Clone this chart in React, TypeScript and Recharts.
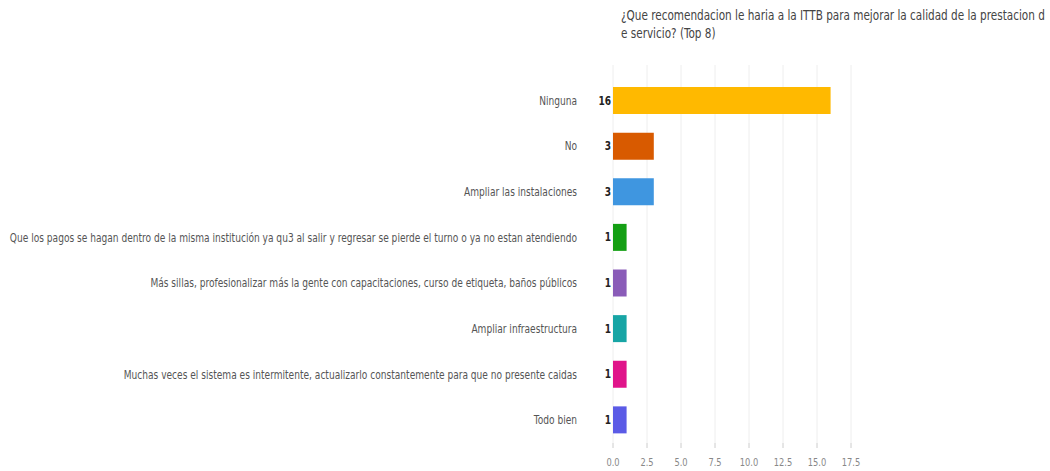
import React from "react";
import { BarChart, Bar, XAxis, YAxis, CartesianGrid, LabelList, Cell } from "recharts";

const categories = [
  "Ninguna",
  "No",
  "Ampliar las instalaciones",
  "Que los pagos se hagan dentro de la misma institución ya qu3 al salir y regresar se pierde el turno o ya no estan atendiendo",
  "Más sillas, profesionalizar más la gente con capacitaciones, curso de etiqueta, baños públicos",
  "Ampliar infraestructura",
  "Muchas veces el sistema es intermitente, actualizarlo constantemente para que no presente caidas",
  "Todo bien",
];
const counts = [16, 3, 3, 1, 1, 1, 1, 1];
const barColors = ["#ffb900", "#d85a00", "#3f96e0", "#149f14", "#8a5cb8", "#17a5a5", "#e0148a", "#5b5be6"];
const xTicks = [0, 2.5, 5, 7.5, 10, 12.5, 15, 17.5];

const FONT = "'DejaVu Sans Condensed', 'DejaVu Sans', sans-serif";
const SQX = 0.84; // horizontal squeeze of the text

const data = categories.map((c, i) => ({ name: c, value: counts[i] }));

function CatTick({ x, y, payload }: any) {
  return (
    <g transform={`translate(${x - 28},${y}) scale(${SQX},1)`}>
      <text x={0} y={0} dy={4} textAnchor="end" fontSize={12} fill="#555" fontFamily={FONT}>
        {payload.value}
      </text>
    </g>
  );
}

function NumTick({ x, y, payload }: any) {
  return (
    <g transform={`translate(${x},${y}) scale(${SQX},1)`}>
      <text x={0} y={0} dy={16} textAnchor="middle" fontSize={11} fill="#888" fontFamily={FONT}>
        {payload.value.toFixed(1)}
      </text>
    </g>
  );
}

function ValueLabel({ x, y, height, value }: any) {
  return (
    <g transform={`translate(${x - 2},${y + height / 2}) scale(${SQX},1)`}>
      <text x={0} y={0} dy={4} textAnchor="end" fontSize={12} fontWeight="bold" fill="#222" fontFamily={FONT}>
        {value}
      </text>
    </g>
  );
}

export default function App() {
  return (
    <div style={{ position: "fixed", left: 0, top: 0, width: 1050, height: 471, background: "#fff" }}>
      <div
        style={{
          position: "absolute", left: 621, top: 6, width: 500, fontFamily: FONT, fontSize: 14,
          lineHeight: "18px", color: "#444", transform: "scaleX(0.83)", transformOrigin: "0 0",
        }}
      >
        <div style={{ whiteSpace: "nowrap" }}>¿Que recomendacion le haria a la ITTB para mejorar la calidad de la prestacion d</div>
        <div style={{ whiteSpace: "nowrap" }}>e servicio? (Top 8)</div>
      </div>
      <BarChart
        width={1050}
        height={471}
        data={data}
        layout="vertical"
        margin={{ top: 65, right: 199, bottom: 0, left: 0 }}
      >
        <CartesianGrid horizontal={false} stroke="#eeeeee" />
        <XAxis
          type="number"
          domain={[0, 17.5]}
          ticks={xTicks}
          axisLine={false}
          tickLine={{ stroke: "#cccccc" }}
          tickSize={5}
          height={28}
          tick={<NumTick />}
        />
        <YAxis
          type="category"
          dataKey="name"
          width={613}
          axisLine={false}
          tickLine={false}
          padding={{ top: 13, bottom: 0 }}
          tick={<CatTick />}
        />
        <Bar dataKey="value" isAnimationActive={false} barSize={27}>
          {data.map((d, i) => (
            <Cell key={d.name} fill={barColors[i]} />
          ))}
          <LabelList dataKey="value" content={<ValueLabel />} />
        </Bar>
      </BarChart>
    </div>
  );
}
